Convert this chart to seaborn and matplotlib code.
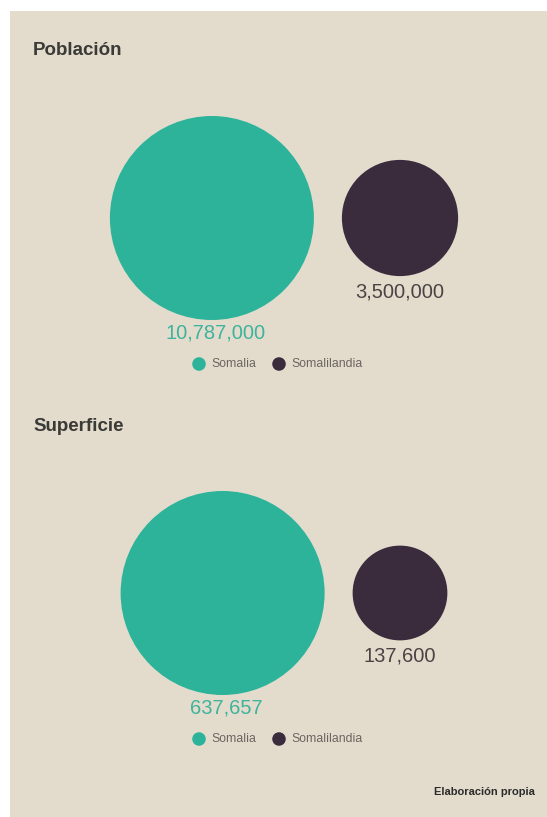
import numpy as np
import pandas as pd
import matplotlib
matplotlib.use("Agg")
import matplotlib.pyplot as plt
import seaborn as sns
from matplotlib.patches import Rectangle

# ---- data ----
panels = ["Población", "Superficie"]
countries = ["Somalia", "Somalilandia"]
poblacion = [10787000, 3500000]
superficie = [637657, 137600]
value_labels = {"Población": ["10,787,000", "3,500,000"],
                "Superficie": ["637,657", "137,600"]}
source = "Elaboración propia"

colors = {"Somalia": "#2db39a", "Somalilandia": "#3a2b3d"}
label_colors = {"Somalia": "#3fb39b", "Somalilandia": "#4a4444"}
BG = "#e3dccd"

sns.set_theme(style="white")
plt.rcParams["font.family"] = ["Liberation Sans Narrow", "Liberation Sans", "DejaVu Sans"]

W, H = 547, 817
fig = plt.figure(figsize=(W / 100, H / 100), dpi=100)
fig.patch.set_facecolor("white")
ax = fig.add_axes([0, 0, 1, 1])
ax.set_xlim(0, W)
ax.set_ylim(H, 0)
ax.axis("off")
ax.add_patch(Rectangle((10, 11), W - 10, H - 11, facecolor=BG, edgecolor="none", zorder=0))

# layout per panel
panel_y = {"Población": 218, "Superficie": 593}
title_y = {"Población": 50, "Superficie": 426}
R_MAX = 102  # px radius of largest circle in each panel
RIGHT_X = 400
GAP = 28

rows = []
for p, vals in zip(panels, [poblacion, superficie]):
    vmax = max(vals)
    radii = [R_MAX * np.sqrt(v / vmax) for v in vals]
    x_right = RIGHT_X
    x_left = x_right - radii[1] - GAP - radii[0]
    for c, v, r, x in zip(countries, vals, radii, [x_left, x_right]):
        rows.append(dict(panel=p, country=c, value=v, r=r, x=x, y=panel_y[p],
                         s=(2 * r * 0.72) ** 2))
df = pd.DataFrame(rows)

for p in panels:
    d = df[df.panel == p]
    sns.scatterplot(data=d, x="x", y="y", hue="country", palette=colors,
                    s=d["s"].values, linewidth=0, legend=False, ax=ax, zorder=2)
    ax.text(33, title_y[p], p, fontsize=13.5, fontweight="bold", color="#3a3a36",
            ha="left", va="center")
    for i, row in enumerate(d.itertuples()):
        off = 13 if i == 0 else 16
        ax.text(row.x + (4 if i == 0 else 0), row.y + row.r + off, value_labels[p][i],
                fontsize=14.5, color=label_colors[row.country], ha="center", va="center")
    # legend
    ly = row.y + R_MAX + 44
    leg_x = [199, 279]
    sns.scatterplot(x=leg_x, y=[ly, ly], hue=countries, palette=colors, s=95,
                    linewidth=0, legend=False, ax=ax, zorder=2)
    for lx, c in zip(leg_x, countries):
        ax.text(lx + 12, ly, c, fontsize=8.8, color="#6a6560", ha="left", va="center")

ax.text(535, 792, source, fontsize=8, fontweight="bold", color="#2b2b2b",
        ha="right", va="center", family=["Liberation Sans", "DejaVu Sans"])

fig.savefig("out.png", dpi=100, facecolor=fig.get_facecolor())
